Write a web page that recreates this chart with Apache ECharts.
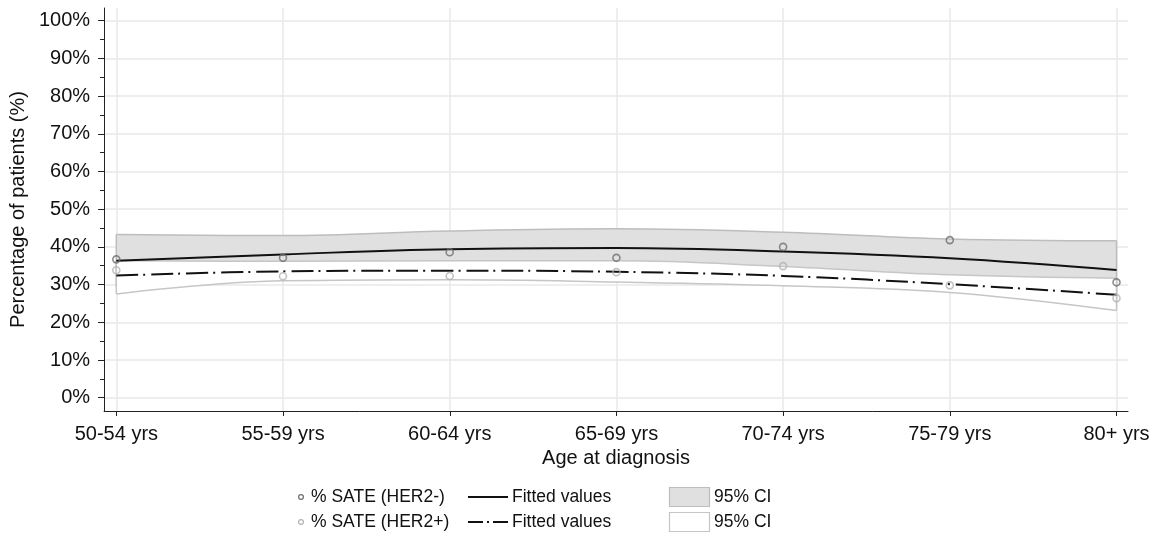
<!DOCTYPE html>
<html><head><meta charset="utf-8">
<script src="https://cdn.jsdelivr.net/npm/echarts@6/dist/echarts.min.js"></script>
<style>html,body{margin:0;padding:0;background:#fff}#c{width:1161px;height:538px}</style>
</head><body><div id="c"></div>
<script>
const categories = ['50-54 yrs','55-59 yrs','60-64 yrs','65-69 yrs','70-74 yrs','75-79 yrs','80+ yrs'];
const yTicks = [0,10,20,30,40,50,60,70,80,90,100];
const yMinorTicks = [5,15,25,35,45,55,65,75,85,95];
const sateNeg = [36.7, 37.1, 38.6, 37.1, 40.0, 41.8, 30.6];
const satePos = [33.8, 32.2, 32.3, 33.3, 34.9, 29.8, 26.4];
const fitNeg = [36.3, 38.0, 39.4, 39.7, 38.8, 37.0, 33.9];
const fitPos = [32.4, 33.5, 33.7, 33.4, 32.3, 30.1, 27.3];
const ciNegUpper = [43.3, 43.0, 44.2, 44.8, 43.9, 42.1, 41.6];
const ciNegLower = [29.3, 33.0, 34.6, 34.6, 33.7, 31.9, 26.2];
const ciPosUpper = [36.3, 36.2, 36.3, 36.3, 34.8, 32.6, 31.7];
const ciPosLower = [27.5, 31.0, 31.3, 30.7, 29.7, 27.9, 23.1];

const FONT = '"Liberation Sans", Arial, Helvetica, sans-serif';
const catIdx = categories.map((c, i) => i);
const diff = (up, lo) => up.map((v, i) => +(v - lo[i]).toFixed(3));
const last = categories.length - 1;
const edges = (lo, up) => [[0, lo[0], up[0]], [last, lo[last], up[last]]];
const Y_MIN = -3.53, Y_MAX = 103.37;

function edgeRenderer(color) {
  return function (params, api) {
    const a = api.coord([api.value(0), api.value(1)]);
    const b = api.coord([api.value(0), api.value(2)]);
    return { type: 'line', shape: { x1: a[0], y1: a[1], x2: b[0], y2: b[1] },
      style: { stroke: color, lineWidth: 1.5 } };
  };
}
const onData = { xAxisIndex: 1, yAxisIndex: 2, clip: false };

const chart = echarts.init(document.getElementById('c'), null, { renderer: 'canvas' });
const legendY1 = 497, legendY2 = 522;
chart.setOption({
  animation: false,
  backgroundColor: '#ffffff',
  textStyle: { fontFamily: FONT },
  grid: [
    { left: 104, right: 33, top: 8, bottom: 127, containLabel: false },
    { left: 116.3, right: 44.5, top: 8, bottom: 127, containLabel: false }
  ],
  xAxis: [{
    gridIndex: 0, type: 'value', min: -0.074, max: 6.069,
    axisLine: { show: true, onZero: false, lineStyle: { color: '#222', width: 1 } },
    axisTick: { show: true, customValues: catIdx, length: 5, lineStyle: { color: '#222' } },
    axisLabel: { customValues: catIdx, formatter: v => categories[Math.round(v)], fontSize: 20,
      color: '#111', margin: 13, fontFamily: FONT, hideOverlap: false },
    splitLine: { show: true, lineStyle: { color: '#e8e8e8', width: 1.5 } },
    name: 'Age at diagnosis', nameLocation: 'middle', nameGap: 30,
    nameTextStyle: { fontSize: 20, color: '#111', fontFamily: FONT }
  }, {
    gridIndex: 1, type: 'category', data: categories, boundaryGap: false, show: false
  }],
  yAxis: [{
    gridIndex: 0, type: 'value', min: Y_MIN, max: Y_MAX,
    axisLine: { show: true, onZero: false, lineStyle: { color: '#222', width: 1 } },
    axisTick: { show: true, customValues: yTicks, length: 6, lineStyle: { color: '#222' } },
    axisLabel: { customValues: yTicks, formatter: '{value}%', fontSize: 20, color: '#111', margin: 14, fontFamily: FONT },
    splitLine: { show: true, lineStyle: { color: '#e8e8e8', width: 1.5 } },
    name: 'Percentage of patients (%)', nameLocation: 'middle', nameGap: 72, nameRotate: 90,
    nameTextStyle: { fontSize: 20, color: '#111', fontFamily: FONT }
  }, {
    gridIndex: 0, type: 'value', min: Y_MIN, max: Y_MAX, position: 'left',
    axisLine: { show: false, onZero: false },
    axisTick: { show: true, customValues: yMinorTicks, length: 4, lineStyle: { color: '#222' } },
    axisLabel: { show: false }, splitLine: { show: false }
  }, {
    gridIndex: 1, type: 'value', min: Y_MIN, max: Y_MAX, show: false
  }],
  series: [
    Object.assign({ name: 'CI neg lower', type: 'line', stack: 'gci', data: ciNegLower, smooth: 0.4, symbol: 'none', silent: true,
      lineStyle: { color: '#bdbdbd', width: 1.5 }, z: 1 }, onData),
    Object.assign({ name: '95% CI', type: 'line', stack: 'gci', data: diff(ciNegUpper, ciNegLower), smooth: 0.4, symbol: 'none', silent: true,
      lineStyle: { color: '#bdbdbd', width: 1.5 }, areaStyle: { color: '#e0e0e0', opacity: 1 }, z: 1 }, onData),
    Object.assign({ type: 'custom', data: edges(ciNegLower, ciNegUpper), renderItem: edgeRenderer('#bdbdbd'), silent: true, z: 1 }, onData),
    Object.assign({ name: 'CI pos lower', type: 'line', stack: 'wci', data: ciPosLower, smooth: 0.4, symbol: 'none', silent: true,
      lineStyle: { color: '#c6c6c6', width: 1.5 }, z: 3 }, onData),
    Object.assign({ name: '95% CI ', type: 'line', stack: 'wci', data: diff(ciPosUpper, ciPosLower), smooth: 0.4, symbol: 'none', silent: true,
      lineStyle: { color: '#c6c6c6', width: 1.5 }, areaStyle: { color: '#ffffff', opacity: 1 }, z: 2 }, onData),
    Object.assign({ type: 'custom', data: edges(ciPosLower, ciPosUpper), renderItem: edgeRenderer('#c6c6c6'), silent: true, z: 3 }, onData),
    Object.assign({ name: 'Fitted values', type: 'line', data: fitNeg, smooth: 0.4, symbol: 'none',
      lineStyle: { color: '#111', width: 2 }, z: 4 }, onData),
    Object.assign({ name: 'Fitted values ', type: 'line', data: fitPos, smooth: 0.4, symbol: 'none',
      lineStyle: { color: '#111', width: 2, type: [22, 5, 2, 6] }, z: 4 }, onData),
    Object.assign({ name: '% SATE (HER2-)', type: 'scatter', data: sateNeg, symbol: 'circle', symbolSize: 7,
      itemStyle: { color: 'rgba(0,0,0,0)', borderColor: '#6e6e6e', borderWidth: 1.6 }, z: 5 }, onData),
    Object.assign({ name: '% SATE (HER2+)', type: 'scatter', data: satePos, symbol: 'circle', symbolSize: 7,
      itemStyle: { color: 'rgba(0,0,0,0)', borderColor: '#b3b3b3', borderWidth: 1.6 }, z: 5 }, onData)
  ],
  graphic: [
    { type: 'circle', shape: { cx: 301, cy: legendY1, r: 2.4 }, style: { fill: 'none', stroke: '#6e6e6e', lineWidth: 1.2 } },
    { type: 'text', x: 311, y: legendY1, style: { text: '% SATE (HER2-)', font: '17.5px ' + FONT, fill: '#111', verticalAlign: 'middle' } },
    { type: 'line', shape: { x1: 468, y1: legendY1, x2: 508, y2: legendY1 }, style: { stroke: '#111', lineWidth: 2 } },
    { type: 'text', x: 512, y: legendY1, style: { text: 'Fitted values', font: '17.5px ' + FONT, fill: '#111', verticalAlign: 'middle' } },
    { type: 'rect', shape: { x: 669.5, y: 487.5, width: 40, height: 19 }, style: { fill: '#e0e0e0', stroke: '#bdbdbd', lineWidth: 1.2 } },
    { type: 'text', x: 714, y: legendY1, style: { text: '95% CI', font: '17.5px ' + FONT, fill: '#111', verticalAlign: 'middle' } },

    { type: 'circle', shape: { cx: 301, cy: legendY2, r: 2.4 }, style: { fill: 'none', stroke: '#b3b3b3', lineWidth: 1.2 } },
    { type: 'text', x: 311, y: legendY2, style: { text: '% SATE (HER2+)', font: '17.5px ' + FONT, fill: '#111', verticalAlign: 'middle' } },
    { type: 'line', shape: { x1: 468, y1: legendY2, x2: 508, y2: legendY2 }, style: { stroke: '#111', lineWidth: 2, lineDash: [15, 4, 2, 4] } },
    { type: 'text', x: 512, y: legendY2, style: { text: 'Fitted values', font: '17.5px ' + FONT, fill: '#111', verticalAlign: 'middle' } },
    { type: 'rect', shape: { x: 669.5, y: 512.5, width: 40, height: 19 }, style: { fill: '#ffffff', stroke: '#c6c6c6', lineWidth: 1.2 } },
    { type: 'text', x: 714, y: legendY2, style: { text: '95% CI', font: '17.5px ' + FONT, fill: '#111', verticalAlign: 'middle' } }
  ]
});
</script></body></html>
